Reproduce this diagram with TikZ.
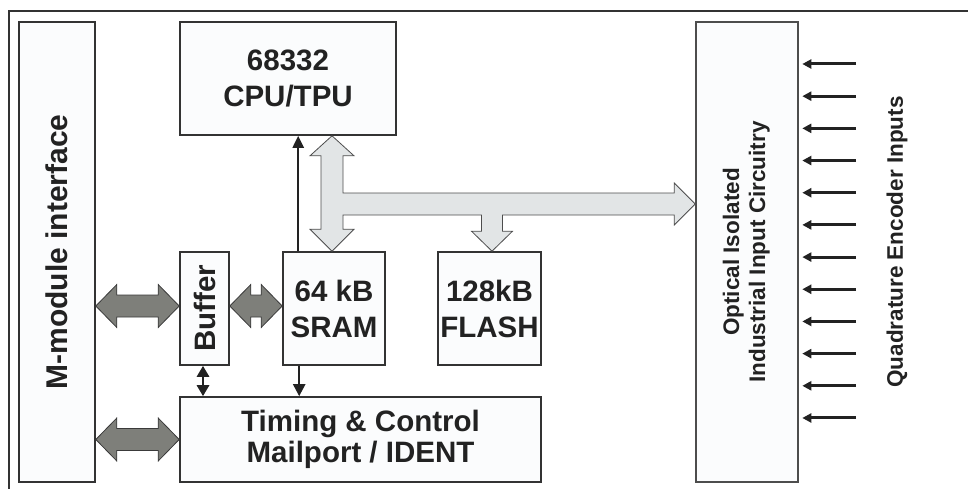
\documentclass[tikz,border=0pt]{standalone}
\usepackage{fontspec}
\setmainfont{Liberation Sans}
\usepackage{graphicx}
\usetikzlibrary{arrows.meta,calc}
\definecolor{ink}{HTML}{222222}
\definecolor{edge}{HTML}{333333}
\definecolor{boxfill}{HTML}{FBFCFD}
\definecolor{busfill}{HTML}{E2E5E6}
\definecolor{busedge}{HTML}{4D4D4D}
\definecolor{darkfill}{HTML}{7E7F7A}
\definecolor{darkedge}{HTML}{3A3A3A}
\newcommand{\hdblarrow}[2]{%
  \filldraw[fatarrow] let \p1=(#1), \p2=(#2) in
    (\x1,\y1) -- (\x1+21pt,\y1+21.5pt) -- (\x1+21pt,\y1+11pt) -- (\x2-21pt,\y1+11pt)
    -- (\x2-21pt,\y1+21.5pt) -- (\x2,\y1) -- (\x2-21pt,\y1-21.5pt) -- (\x2-21pt,\y1-11pt)
    -- (\x1+21pt,\y1-11pt) -- (\x1+21pt,\y1-21.5pt) -- cycle;}
\begin{document}
\begin{tikzpicture}[x=1pt,y=-1pt,
  blk/.style={draw=edge, line width=1.6pt, fill=boxfill, inner sep=0pt, text=ink,
    align=center, font=\bfseries\fontsize{29.5}{36}\selectfont},
  wire/.style={draw=ink, line width=2.3pt, -{Triangle[length=12pt,width=11pt]}},
  shortwire/.style={draw=ink, line width=2.8pt, {Triangle[length=11pt,width=12pt]}-{Triangle[length=11pt,width=12pt]}},
  downwire/.style={draw=ink, line width=2.3pt, -{Triangle[length=12pt,width=12pt]}},
  inarrow/.style={draw=ink, line width=3pt, -{Triangle[length=9pt,width=9pt]}, shorten >=3.5pt},
  fatarrow/.style={fill=darkfill, draw=darkedge, line width=0.8pt, line join=miter},
  bus/.style={fill=busfill, draw=busedge, line width=0.8pt, line join=miter},
  rotlabel/.style={inner sep=0pt, text=ink, font=\bfseries\fontsize{22.5}{26}\selectfont}
]
\useasboundingbox (0,0) rectangle (968,489);
% outer frame (cropped)
\draw[edge, line width=1.5pt] (968,11) -- (9,11) -- (9,489);

% blocks
\node[blk, minimum width=76pt, minimum height=460pt] (mmod) at (57,252)
  {\fontsize{30}{36}\selectfont\rotatebox{90}{M-module interface}};
\node[blk, minimum width=216pt, minimum height=113pt] (cpu) at (288,78.5) {68332\\CPU/TPU};
\node[blk, minimum width=49pt, minimum height=113pt] (buf) at (204.5,308.5) {\rotatebox{90}{Buffer}};
\node[blk, minimum width=102pt, minimum height=113pt] (sram) at (334,308.5) {64 kB\\SRAM};
\node[blk, minimum width=103pt, minimum height=113pt] (flash) at (489.5,308.5) {128kB\\FLASH};
\node[blk, minimum width=361pt, minimum height=85pt, font=\bfseries\fontsize{29.5}{31}\selectfont]
  (timing) at (360.5,439.5) {Timing \& Control\\Mailport / IDENT};
\node[blk, draw=busedge, minimum width=102pt, minimum height=460pt] (opt) at (747,252)
  {\fontsize{22.5}{26}\selectfont\rotatebox{90}{\begin{tabular}{@{}c@{}}Optical Isolated\\Industrial Input Circuitry\end{tabular}}};
\node[rotlabel] (quad) at (897,242) {\rotatebox{90}{Quadrature Encoder Inputs}};

% thin connectors
\draw[wire] ([xshift=16pt]sram.north west) -- ([xshift=16pt]sram.north west |- cpu.south);
\draw[downwire] ([xshift=17pt]sram.south west) -- ([xshift=17pt]sram.south west |- timing.north);
\draw[shortwire] ([xshift=-1.5pt]buf.south) -- ([xshift=-1.5pt]buf.south |- timing.north);

% dark double arrows
\hdblarrow{[yshift=2.5pt]mmod.east |- buf.west}{[yshift=2.5pt]buf.west}
\hdblarrow{[yshift=2.5pt]buf.east}{[yshift=2.5pt]sram.west}
\hdblarrow{mmod.east |- timing.west}{timing.west}

% light bus
\coordinate (busy) at (0,204);
\filldraw[bus] let \p1=([xshift=-2pt]sram.north |- cpu.south), \p2=([xshift=-2pt]sram.north),
    \p3=(opt.west |- busy), \p4=([xshift=2.5pt]flash.north) in
  (\x1,\y1) -- (\x1+22pt,\y1-20pt) -- (\x1+11pt,\y1-20pt) -- (\x1+11pt,\y3+11pt)
  -- (\x3-21pt,\y3+11pt) -- (\x3-21pt,\y3+21pt) -- (\x3,\y3) -- (\x3-21pt,\y3-21pt)
  -- (\x3-21pt,\y3-11pt) -- (\x4+10.5pt,\y3-11pt) -- (\x4+10.5pt,\y4+20pt)
  -- (\x4+20.5pt,\y4+20pt) -- (\x4,\y4) -- (\x4-20.5pt,\y4+20pt) -- (\x4-10.5pt,\y4+20pt)
  -- (\x4-10.5pt,\y3-11pt) -- (\x1+11pt,\y3-11pt) -- (\x1+11pt,\y2+22pt)
  -- (\x1+22pt,\y2+22pt) -- (\x2,\y2) -- (\x1-22pt,\y2+22pt) -- (\x1-11pt,\y2+22pt)
  -- (\x1-11pt,\y1-20pt) -- (\x1-22pt,\y1-20pt) -- cycle;

% encoder inputs
\foreach \k in {0,...,11} {
  \coordinate (in\k) at (856,64+32.18*\k);
  \draw[inarrow] (in\k) -- (in\k -| opt.east);
}
\end{tikzpicture}
\end{document}
